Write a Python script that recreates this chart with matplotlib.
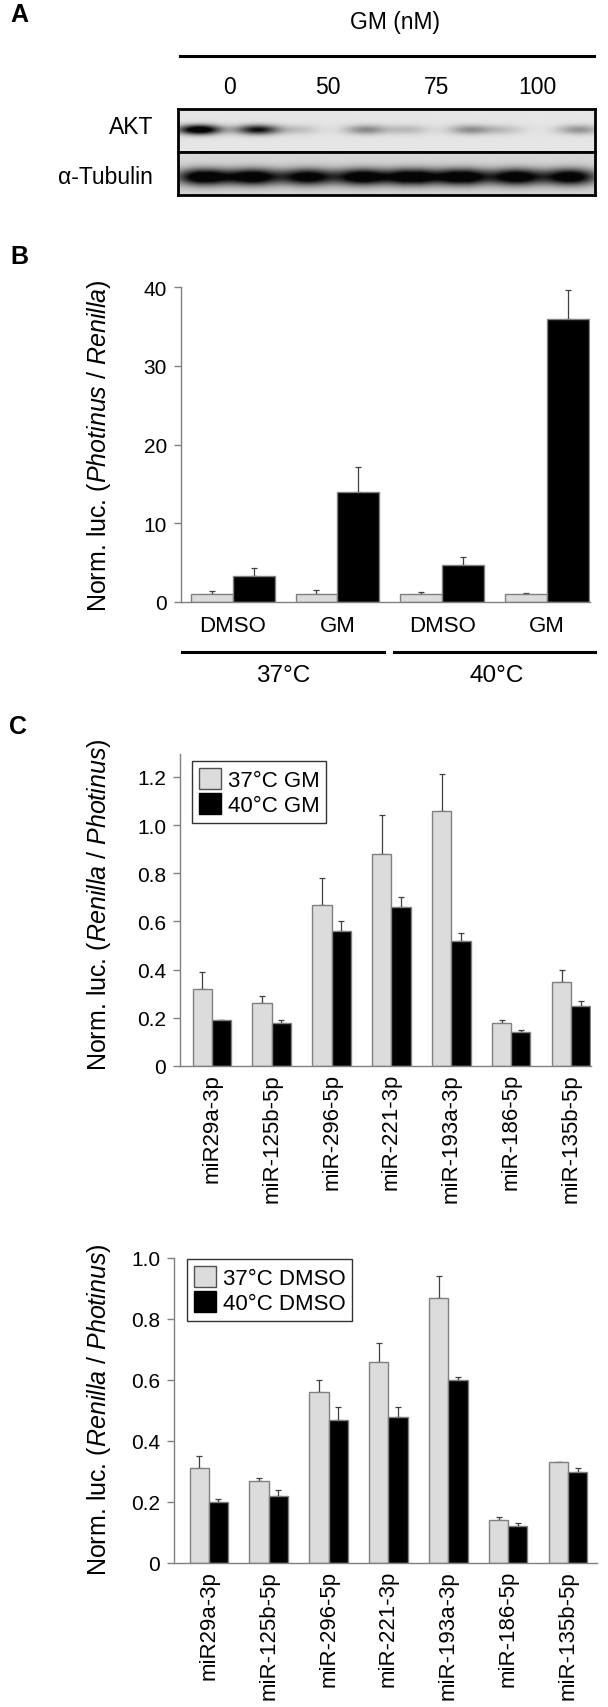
import numpy as np
import matplotlib
matplotlib.use("Agg")
import matplotlib.pyplot as plt
from matplotlib.patches import Patch
from matplotlib.lines import Line2D

plt.rcParams['font.family'] = ['Liberation Sans', 'DejaVu Sans']
plt.rcParams['mathtext.fontset'] = 'custom'
plt.rcParams['mathtext.rm'] = 'Liberation Sans'
plt.rcParams['mathtext.it'] = 'Liberation Sans:italic'

# ---- data ----
doses = ['0', '50', '75', '100']
# western blot band strengths per lane (2 lanes per dose)
akt_lane_pos = [0.05, 0.19, 0.29, 0.45, 0.55, 0.70, 0.78, 0.96]
akt_band = [1.0, 0.75, 0.12, 0.32, 0.15, 0.30, 0.12, 0.28]
tub_lane_pos = [0.06, 0.18, 0.31, 0.44, 0.56, 0.68, 0.81, 0.94]
tub_band = [1.0, 0.95, 0.9, 0.95, 1.0, 1.0, 0.95, 0.95]

b_labels = ['DMSO', 'GM', 'DMSO', 'GM']
b_temps = ['37°C', '40°C']
b_light = [1.0, 1.0, 1.0, 1.0]
b_light_sd = [0.4, 0.5, 0.3, 0.1]
b_dark = [3.3, 14.0, 4.7, 36.0]
b_dark_sd = [1.0, 3.1, 1.0, 3.6]

mirs = ['miR29a-3p', 'miR-125b-5p', 'miR-296-5p', 'miR-221-3p',
        'miR-193a-3p', 'miR-186-5p', 'miR-135b-5p']
gm37 = [0.32, 0.26, 0.67, 0.88, 1.06, 0.18, 0.35]
gm37_sd = [0.07, 0.03, 0.11, 0.16, 0.15, 0.01, 0.05]
gm40 = [0.19, 0.18, 0.56, 0.66, 0.52, 0.14, 0.25]
gm40_sd = [0.0, 0.01, 0.04, 0.04, 0.03, 0.01, 0.02]
dm37 = [0.31, 0.27, 0.56, 0.66, 0.87, 0.14, 0.33]
dm37_sd = [0.04, 0.01, 0.04, 0.06, 0.07, 0.01, 0.0]
dm40 = [0.20, 0.22, 0.47, 0.48, 0.60, 0.12, 0.30]
dm40_sd = [0.01, 0.02, 0.04, 0.03, 0.01, 0.01, 0.01]

LIGHT = '#dcdcdc'
EDGE = '#808080'
W, H = 608, 1708

fig = plt.figure(figsize=(W / 100, H / 100), dpi=100)


def axes_px(x0, y0, x1, y1):
    return fig.add_axes([x0 / W, 1 - y1 / H, (x1 - x0) / W, (y1 - y0) / H])


def ftext(x, y, s, **kw):
    fig.text(x / W, 1 - y / H, s, **kw)


def fline(x0, x1, y, lw=2.2):
    fig.add_artist(Line2D([x0 / W, x1 / W], [1 - y / H, 1 - y / H],
                          transform=fig.transFigure, color='black', lw=lw))


def style_bar_axes(ax):
    for s in ['top', 'right']:
        ax.spines[s].set_visible(False)
    for s in ['left', 'bottom']:
        ax.spines[s].set_color(EDGE)
        ax.spines[s].set_linewidth(1)
    ax.tick_params(axis='y', colors=EDGE, labelcolor='black', length=5,
                   width=1, labelsize=15, pad=5)
    ax.tick_params(axis='x', length=0)


def blot(ax, pos, band, cy, sx, sy, bg):
    nx, ny = 420, 44
    xx, yy = np.meshgrid(np.arange(nx), np.arange(ny))
    dark = np.zeros((ny, nx))
    for p, b in zip(pos, band):
        dark += b * np.exp(-0.5 * ((xx - p * nx) / sx) ** 2)
    dark = np.clip(dark, 0, 1) * np.exp(-0.5 * ((yy - cy * ny) / sy) ** 2)
    img = bg - (bg - 0.02) * np.clip(dark * 1.3, 0, 1)
    ax.imshow(img, cmap='gray', vmin=0, vmax=1, aspect='auto')
    ax.set_xticks([])
    ax.set_yticks([])
    for s in ax.spines.values():
        s.set_linewidth(2)
        s.set_color('black')


# ---- panel A ----
ftext(10, 15, 'A', fontsize=18, fontweight='bold', va='center')
ftext(395, 23, 'GM (nM)', fontsize=16.5, ha='center', va='center')
fline(180, 594, 57)
for x, d in zip([230, 328, 437, 537], doses):
    ftext(x, 87, d, fontsize=16.5, ha='center', va='center')
ax_akt = axes_px(178, 110, 595, 153)
blot(ax_akt, akt_lane_pos, akt_band, 0.47, 15, 3.5, 0.9)
ax_tub = axes_px(178, 153, 595, 196)
blot(ax_tub, tub_lane_pos, tub_band, 0.57, 19, 6, 0.84)
ftext(153, 128, 'AKT', fontsize=16.5, ha='right', va='center')
ftext(153, 177, 'α-Tubulin', fontsize=16.5, ha='right', va='center')

# ---- panel B ----
ftext(10, 257, 'B', fontsize=18, fontweight='bold', va='center')
axb = axes_px(181, 288, 590, 603)
x = np.arange(len(b_labels))
bw = 0.4
axb.bar(x - bw / 2, b_light, bw, color=LIGHT, edgecolor=EDGE, lw=1, zorder=2)
axb.bar(x + bw / 2, b_dark, bw, color='black', edgecolor=EDGE, lw=1, zorder=2)
axb.errorbar(x - bw / 2, b_light, yerr=[np.zeros(4), b_light_sd], fmt='none',
             ecolor='#404040', elinewidth=0.9, capsize=2.5, capthick=0.9, zorder=1)
axb.errorbar(x + bw / 2, b_dark, yerr=[np.zeros(4), b_dark_sd], fmt='none',
             ecolor='#404040', elinewidth=0.9, capsize=2.5, capthick=0.9, zorder=1)
axb.set_xlim(-0.493, 3.41)
axb.set_ylim(0, 40)
axb.set_yticks([0, 10, 20, 30, 40])
axb.set_xticks(x)
axb.set_xticklabels(b_labels, fontsize=16)
style_bar_axes(axb)
axb.tick_params(axis='x', pad=9)
ftext(99, 446, r'Norm. luc. ($\mathit{Photinus}$ / $\mathit{Renilla}$)',
      fontsize=18, rotation=90, ha='center', va='center')
fline(182, 384, 653)
fline(394, 595, 653)
ftext(283, 676, b_temps[0], fontsize=17.5, ha='center', va='center')
ftext(497, 676, b_temps[1], fontsize=17.5, ha='center', va='center')

# ---- panel C ----
ftext(9, 727, 'C', fontsize=18, fontweight='bold', va='center')


def mir_panel(y0, y1, xl, xr, top, ticks, a, a_sd, b, b_sd, names, leg_xy):
    ax = axes_px(xl, y0, xr, y1)
    n = len(mirs)
    xs = np.arange(n)
    w = 0.32
    ax.bar(xs - w / 2, a, w, color=LIGHT, edgecolor=EDGE, lw=1, zorder=2)
    ax.bar(xs + w / 2, b, w, color='black', edgecolor=EDGE, lw=1, zorder=2)
    ax.errorbar(xs - w / 2, a, yerr=[np.zeros(n), a_sd], fmt='none',
                ecolor='#404040', elinewidth=0.9, capsize=2.5, capthick=0.9, zorder=1)
    ax.errorbar(xs + w / 2, b, yerr=[np.zeros(n), b_sd], fmt='none',
                ecolor='#404040', elinewidth=0.9, capsize=2.5, capthick=0.9, zorder=1)
    ax.set_ylim(0, top)
    ax.set_yticks(ticks)
    ax.set_yticklabels(['0'] + ['%.1f' % t for t in ticks[1:]])
    ax.set_xticks(xs)
    ax.set_xticklabels(mirs, rotation=90, fontsize=16, ha='center', va='top')
    style_bar_axes(ax)
    ax.tick_params(axis='x', pad=5)
    handles = [Patch(facecolor=LIGHT, edgecolor='#505050', lw=1),
               Patch(facecolor='black', edgecolor='black')]
    leg = ax.legend(handles, names, loc='upper left',
                    bbox_to_anchor=(leg_xy[0] / W, 1 - leg_xy[1] / H),
                    bbox_transform=fig.transFigure, borderaxespad=0,
                    fontsize=16, frameon=True, fancybox=False, edgecolor='black',
                    handlelength=1.0, handleheight=1.1, handletextpad=0.3,
                    labelspacing=0.1, borderpad=0.3)
    leg.get_frame().set_linewidth(1)
    return ax


ax_c1 = mir_panel(755, 1067, 180, 591, 1.295, [0, 0.2, 0.4, 0.6, 0.8, 1.0, 1.2],
                  gm37, gm37_sd, gm40, gm40_sd, ['37°C GM', '40°C GM'], (192, 762))
ax_c1.set_xlim(-0.53, 6.33)
ftext(99, 905, r'Norm. luc. ($\mathit{Renilla}$ / $\mathit{Photinus}$)',
      fontsize=18, rotation=90, ha='center', va='center')

ax_c2 = mir_panel(1259, 1564, 174, 597, 1.0, [0, 0.2, 0.4, 0.6, 0.8, 1.0],
                  dm37, dm37_sd, dm40, dm40_sd, ['37°C DMSO', '40°C DMSO'], (187, 1260))
ax_c2.set_xlim(-0.58, 6.48)
ftext(99, 1410, r'Norm. luc. ($\mathit{Renilla}$ / $\mathit{Photinus}$)',
      fontsize=18, rotation=90, ha='center', va='center')

fig.savefig('out.png', dpi=100)
